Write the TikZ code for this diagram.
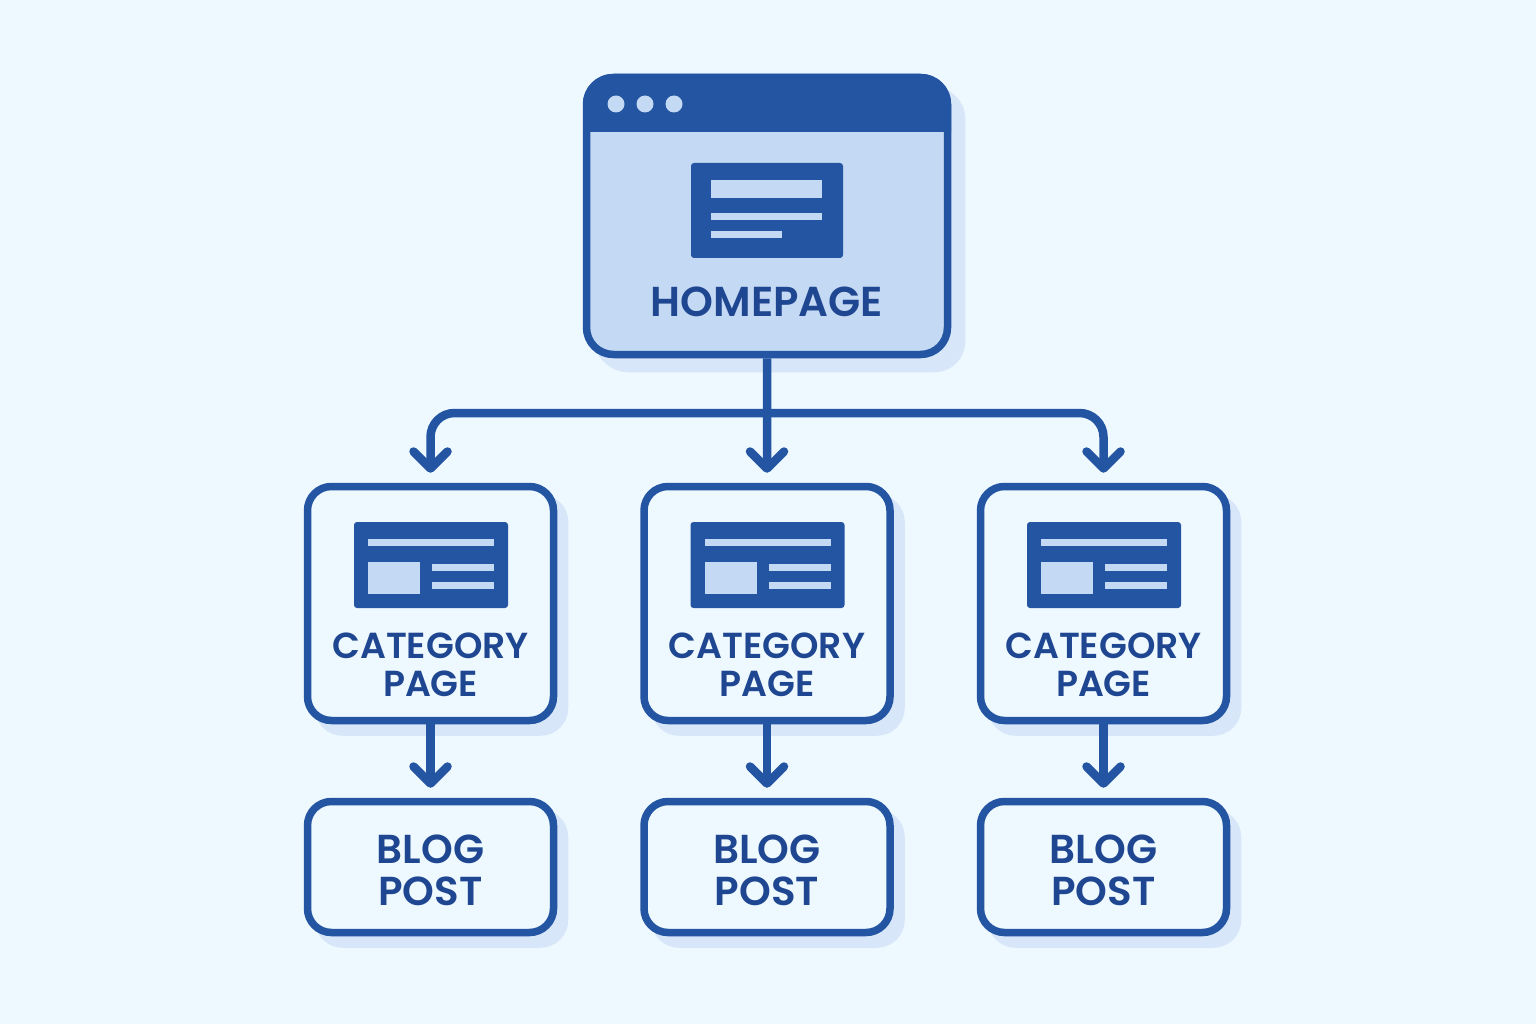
\documentclass[tikz,border=0pt]{standalone}
\usepackage{fontspec}
\setmainfont{Poppins}[BoldFont={Poppins SemiBold}]
\usetikzlibrary{arrows.meta,shadows}

\definecolor{pagebg}{HTML}{EEF8FF}
\definecolor{boxblue}{HTML}{2455A2}
\definecolor{textblue}{HTML}{1F4690}
\definecolor{paleblue}{HTML}{C4D9F3}
\definecolor{shadeblue}{HTML}{D7E6F9}

\tikzset{
  pagebox/.style={draw=boxblue,line width=0.075cm,fill=pagebg,rounded corners=0.24cm,inner sep=0pt,
    general shadow={shadow xshift=0.11cm,shadow yshift=-0.115cm,draw=shadeblue,fill=shadeblue}},
  catbox/.style={pagebox,minimum width=2.46cm,minimum height=2.34cm},
  blogbox/.style={pagebox,minimum width=2.46cm,minimum height=1.31cm},
  link/.style={line width=0.085cm,draw=boxblue,shorten >=0.1cm,-{Straight Barb[round,length=0.17cm,width=0.34cm]}},
  icon/.style={boxblue,rounded corners=0.03cm},
  catlabel/.style={text=textblue,align=center,inner sep=0pt,font=\fontsize{10.3}{10.8}\selectfont\bfseries},
  bloglabel/.style={text=textblue,align=center,inner sep=0pt,font=\fontsize{11.5}{11.95}\selectfont\bfseries}
}

\begin{document}
\begin{tikzpicture}
\fill[pagebg] (0,0) rectangle (15.36,10.24);

% Homepage window
\node[pagebox,fill=paleblue,rounded corners=0.27cm,minimum width=3.61cm,minimum height=2.77cm,
  general shadow={shadow xshift=0.14cm,shadow yshift=-0.14cm,draw=shadeblue,fill=shadeblue}] (home) at (7.67,8.08) {};
\fill[boxblue] (5.83,8.92) -- (5.83,9.2) arc[start angle=180,end angle=90,radius=0.3] -- (9.21,9.5)
  arc[start angle=90,end angle=0,radius=0.3] -- (9.51,8.92) -- cycle;
\fill[paleblue] (6.16,9.20) circle (0.085);
\fill[paleblue] (6.45,9.20) circle (0.085);
\fill[paleblue] (6.74,9.20) circle (0.085);
\fill[icon] (6.91,7.66) rectangle (8.43,8.61);
\fill[paleblue] (7.11,8.26) rectangle (8.22,8.44);
\fill[paleblue] (7.11,8.04) rectangle (8.22,8.11);
\fill[paleblue] (7.11,7.86) rectangle (7.82,7.93);
\node[text=textblue,inner sep=0pt,font=\fontsize{11.9}{12.2}\selectfont\bfseries] (homelabel) at (7.67,7.22) {HOMEPAGE};

% First column
\node[catbox] (cat1) at (4.305,4.205) {};
\node[blogbox] (blog1) at (4.305,1.57) {};
\fill[icon] (3.54,4.16) rectangle (5.08,5.02);
\fill[paleblue] (3.68,4.78) rectangle (4.94,4.85);
\fill[paleblue] (3.68,4.30) rectangle (4.20,4.62);
\fill[paleblue] (4.32,4.53) rectangle (4.94,4.60);
\fill[paleblue] (4.32,4.35) rectangle (4.94,4.42);
\node[catlabel] (catlabel1) at (4.305,3.59) {CATEGORY\\PAGE};
\node[bloglabel] (bloglabel1) at (4.305,1.54) {BLOG\\POST};

% Second column
\begin{scope}[xshift=3.365cm]
\node[catbox] (cat2) at (4.305,4.205) {};
\node[blogbox] (blog2) at (4.305,1.57) {};
\fill[icon] (3.54,4.16) rectangle (5.08,5.02);
\fill[paleblue] (3.68,4.78) rectangle (4.94,4.85);
\fill[paleblue] (3.68,4.30) rectangle (4.20,4.62);
\fill[paleblue] (4.32,4.53) rectangle (4.94,4.60);
\fill[paleblue] (4.32,4.35) rectangle (4.94,4.42);
\node[catlabel] (catlabel2) at (4.305,3.59) {CATEGORY\\PAGE};
\node[bloglabel] (bloglabel2) at (4.305,1.54) {BLOG\\POST};
\end{scope}

% Third column
\begin{scope}[xshift=6.73cm]
\node[catbox] (cat3) at (4.305,4.205) {};
\node[blogbox] (blog3) at (4.305,1.57) {};
\fill[icon] (3.54,4.16) rectangle (5.08,5.02);
\fill[paleblue] (3.68,4.78) rectangle (4.94,4.85);
\fill[paleblue] (3.68,4.30) rectangle (4.20,4.62);
\fill[paleblue] (4.32,4.53) rectangle (4.94,4.60);
\fill[paleblue] (4.32,4.35) rectangle (4.94,4.42);
\node[catlabel] (catlabel3) at (4.305,3.59) {CATEGORY\\PAGE};
\node[bloglabel] (bloglabel3) at (4.305,1.54) {BLOG\\POST};
\end{scope}

% Arrows
\coordinate (bus) at (7.67,6.11);
\draw[link] (home.south) -- (cat2.north);
\draw[link,rounded corners=0.24cm] (bus) -| (cat1.north);
\draw[link,rounded corners=0.24cm] (bus) -| (cat3.north);
\draw[link] (cat1.south) -- (blog1.north);
\draw[link] (cat2.south) -- (blog2.north);
\draw[link] (cat3.south) -- (blog3.north);
\end{tikzpicture}
\end{document}
